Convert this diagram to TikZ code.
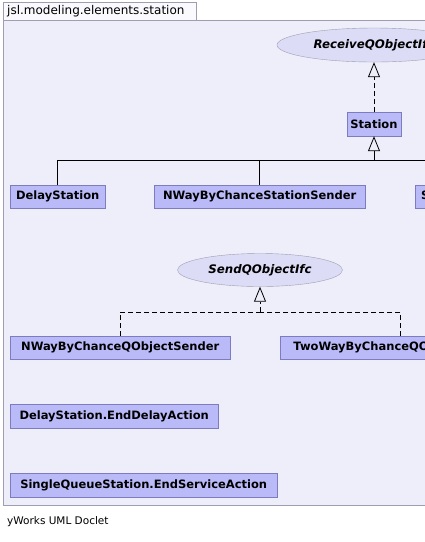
\documentclass[tikz,border=0pt]{standalone}
\usepackage{fontspec}
\setmainfont{DejaVu Sans}
\usepackage{xcolor}
\usetikzlibrary{arrows.meta, positioning, shapes.geometric}

\definecolor{panelbg}{RGB}{238,238,250}
\definecolor{panelline}{RGB}{158,158,176}
\definecolor{classbg}{RGB}{186,186,248}
\definecolor{classline}{RGB}{124,124,190}
\definecolor{ifcbg}{RGB}{220,220,246}

\tikzset{
    classbox/.style={draw=classline, fill=classbg, rectangle, anchor=west, minimum height=23pt, inner xsep=0pt, font=\fontsize{11.5}{13}\selectfont\bfseries},
    ifcbox/.style={draw=panelline, fill=ifcbg, ellipse, inner sep=0pt, font=\fontsize{11.8}{13}\selectfont\bfseries\itshape},
    realize/.style={line width=0.8pt, dash pattern=on 5pt off 3pt, -{Triangle[open, width=12pt, length=15pt]}},
    extend/.style={line width=0.8pt, -{Triangle[open, width=12pt, length=15pt]}},
    branch/.style={line width=0.8pt}
}

\begin{document}
\begin{tikzpicture}[x=1pt, y=-1pt]
        \useasboundingbox (0,0) rectangle (425,542);
        \clip (0,0) rectangle (425,542);

        % Package frame
        \draw[panelline, fill=panelbg, line width=0.8pt] (3,20) rectangle (440,505);
        \draw[panelline, fill=white!70!panelbg, line width=0.8pt] (3,2) rectangle (196,20);
        \node[anchor=west, inner sep=0pt, font=\fontsize{12}{14}\selectfont] (pkg) at (7,11) {jsl.modeling.elements.station};

        % Interfaces
        \node[ifcbox, minimum width=194pt, minimum height=34pt] (receive) at (374,45) {ReceiveQObjectIfc};
        \node[ifcbox, minimum width=165pt, minimum height=33pt] (send) at (260,270) {SendQObjectIfc};

        % Stations
        \node[classbox, anchor=center, minimum width=54pt, minimum height=24pt] (station) at (374,124) {Station};
        \node[classbox, minimum width=95pt] (delay) at (10,196.5) {DelayStation};
        \node[classbox, minimum width=211pt] (nwstation) at (154,196.5) {NWayByChanceStationSender};
        \node[classbox, inner xsep=6pt] (sqstation) at (415,196.5) {SingleQueueStation};

        % Senders
        \node[classbox, minimum width=220pt] (nwsender) at (10,347.5) {NWayByChanceQObjectSender};
        \node[classbox, minimum width=240pt] (twsender) at (280,347.5) {TwoWayByChanceQObjectSender};

        % Actions
        \node[classbox, minimum width=208pt, minimum height=24pt] (enddelay) at (10,416) {DelayStation.EndDelayAction};
        \node[classbox, minimum width=267pt, minimum height=24pt] (endservice) at (10,485) {SingleQueueStation.EndServiceAction};

        % Relationships
        \coordinate (stationbus) at (374,160.5);
        \coordinate (sendbus) at (260,312);
        \draw[realize] (station) -- (receive);
        \draw[extend] (stationbus) -- (station);
        \draw[branch] (delay.north) |- (stationbus);
        \draw[branch] (nwstation.north) |- (stationbus);
        \draw[branch] (sqstation.north) |- (stationbus);
        \draw[realize] (sendbus) -- (send);
        \draw[realize, -] (nwsender.north) |- (sendbus);
        \draw[realize, -] (twsender.north) |- (sendbus);

        % Footer
        \node[anchor=west, inner sep=0pt, font=\fontsize{10.5}{12}\selectfont] (doclet) at (7,522) {yWorks UML Doclet};
    \end{tikzpicture}
\end{document}
